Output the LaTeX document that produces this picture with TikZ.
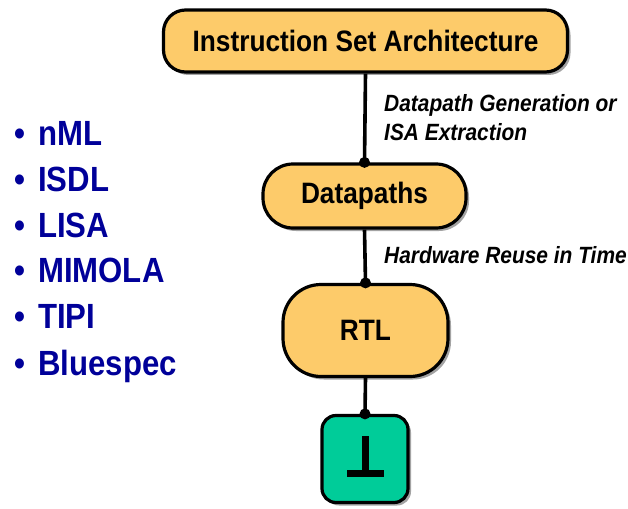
\documentclass[tikz,border=0pt]{standalone}
\usepackage{fontspec}
\setmainfont[FakeStretch=0.89]{Liberation Sans}
\usetikzlibrary{shadows}
\definecolor{boxor}{HTML}{FDCB6A}
\definecolor{boxgr}{HTML}{00CC99}
\definecolor{listblue}{HTML}{000099}
\tikzset{
  base/.style={draw=black, line width=3.2pt, inner sep=0pt,
    drop shadow={shadow xshift=3pt, shadow yshift=-3pt, fill=black!45, opacity=0.8}},
  obox/.style={base, fill=boxor, font=\bfseries\fontsize{29.5}{32}\selectfont},
  gbox/.style={base, fill=boxgr, rounded corners=14pt},
  lbl/.style={font=\bfseries\itshape\fontsize{23.5}{26}\selectfont, anchor=base west, inner sep=0pt},
  item/.style={font=\bfseries\fontsize{35}{38}\selectfont, text=listblue, anchor=base west, inner sep=0pt},
  conn/.style={line width=3.6pt},
  jdot/.style={circle, fill=black, inner sep=0pt, minimum size=11pt},
  botsym/.style={line width=7pt}
}
\newcommand{\blt}{\makebox[24pt][l]{•}}
\begin{document}
\begin{tikzpicture}[x=1pt,y=-1pt]
\useasboundingbox (0,0) rectangle (628,508);
\node[obox, rounded corners=22pt, minimum width=404pt, minimum height=62pt] (isa) at (365.5,41) {Instruction Set Architecture};
\node[obox, rounded corners=30pt, minimum width=203pt, minimum height=64pt] (dp) at (364.5,196) {Datapaths};
\node[obox, rounded corners=38pt, minimum width=165pt, minimum height=92pt] (rtl) at (365.5,330.5) {RTL};
\node[gbox, minimum width=86pt, minimum height=87pt] (gr) at (365,459) {};
\draw[conn] (isa.south) -- (dp.north);
\draw[conn] (dp.south) -- (rtl.north);
\draw[conn] (rtl.south) -- (gr.north);
\node[jdot] at (dp.north) {};
\node[jdot] at (rtl.north) {};
\node[jdot] at (gr.north) {};
\draw[botsym] (365,436) -- (365,473);
\draw[botsym] (347,473) -- (384,473);
\node[lbl] (l1) at (384,111) {Datapath Generation or};
\node[lbl] (l2) at (384,140) {ISA Extraction};
\node[lbl] (l3) at (384,263) {Hardware Reuse in Time};
\node[item] (i1) at (14,145) {\blt nML};
\node[item] (i2) at (14,191) {\blt ISDL};
\node[item] (i3) at (14,237) {\blt LISA};
\node[item] (i4) at (14,282) {\blt MIMOLA};
\node[item] (i5) at (14,328) {\blt TIPI};
\node[item] (i6) at (14,375) {\blt Bluespec};
\end{tikzpicture}
\end{document}
